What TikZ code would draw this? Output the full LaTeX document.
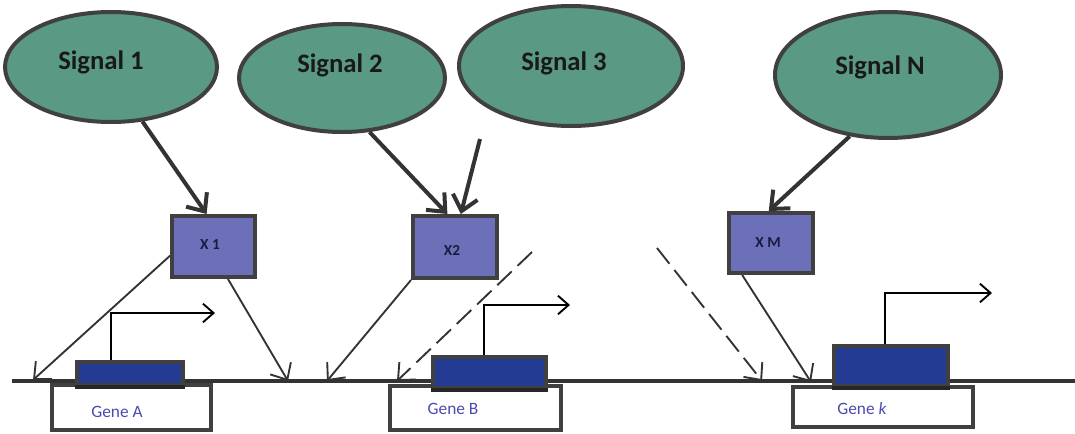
\documentclass[tikz,border=0pt]{standalone}
\usepackage{fontspec}
\setmainfont{Carlito}
\usetikzlibrary{shapes.geometric,arrows.meta,calc}
\definecolor{sigfill}{HTML}{5A9A85}
\definecolor{edgegray}{HTML}{404040}
\definecolor{xfill}{HTML}{6C70B8}
\definecolor{barfill}{HTML}{243B93}
\definecolor{genetext}{HTML}{4A4AB0}
\definecolor{arrowgray}{HTML}{333333}
\definecolor{xtext}{HTML}{1B1B40}
\tikzset{
  signal/.style={ellipse, draw=edgegray, fill=sigfill, line width=3pt, inner sep=0pt},
  sigtext/.style={font=\bfseries\fontsize{20}{22}\selectfont, text=black!90},
  xbox/.style={rectangle, draw=edgegray, fill=xfill, line width=3pt, inner sep=0pt},
  xtxt/.style={font=\bfseries\fontsize{11.5}{13}\selectfont, text=xtext},
  genebox/.style={rectangle, draw=edgegray, fill=white, line width=3pt, inner sep=0pt},
  genetxt/.style={font=\fontsize{13}{15}\selectfont, text=genetext},
  codebar/.style={rectangle, draw=edgegray, fill=barfill, line width=2.5pt, inner sep=0pt},
  bigarrow/.style={draw=arrowgray, line width=3pt, -{Straight Barb[length=11pt,width=19pt,line width=3pt]}},
  thinarrow/.style={draw=arrowgray, line width=1.4pt, -{Straight Barb[length=10pt,width=18pt,line width=1.4pt]}},
  dasharrow/.style={thinarrow, dash pattern=on 15pt off 6pt},
  prom/.style={draw=black, line width=1.4pt, -{Straight Barb[length=8pt,width=14pt,line width=1.4pt]}},
}
\begin{document}
\begin{tikzpicture}[x=0.75pt,y=-0.75pt]
\useasboundingbox (0,0) rectangle (1075,433);
\fill[white] (0,0) rectangle (1075,433);

% signals
\node[signal, minimum width=159pt, minimum height=82.5pt] (s1) at (111,67) {};
\node[signal, minimum width=154.5pt, minimum height=81pt] (s2) at (342,78) {};
\node[signal, minimum width=168pt, minimum height=90pt] (s3) at (571,66) {};
\node[signal, minimum width=169.5pt, minimum height=94.5pt] (sn) at (888,75) {};
\node[sigtext] (s1t) at (101,62) {Signal 1};
\node[sigtext] (s2t) at (340,65) {Signal 2};
\node[sigtext] (s3t) at (564,63) {Signal 3};
\node[sigtext] (snt) at (880,67) {Signal N};

% X boxes
\node[xbox, minimum width=62.25pt, minimum height=45.75pt] (x1) at (213.5,246.5) {};
\node[xbox, minimum width=63pt, minimum height=46.5pt] (x2) at (455,247) {};
\node[xbox, minimum width=63pt, minimum height=45pt] (xm) at (771,243) {};
\node[xtxt] (x1t) at (210,245) {X 1};
\node[xtxt] (x2t) at (452,250) {X2};
\node[xtxt] (xmt) at (768,243) {X M};

% baseline
\coordinate (bl) at (12,381);
\coordinate (br) at (1075,381);
\draw[draw=arrowgray, line width=3pt] (bl) -- (br);

% gene boxes
\node[genebox, minimum width=119.25pt, minimum height=33.75pt] (ga) at (131.5,407.5) {};
\node[genebox, minimum width=128.25pt, minimum height=33pt] (gb) at (475.5,408) {};
\node[genebox, minimum width=135pt, minimum height=30pt] (gk) at (883,407) {};
\node[genetxt] (gat) at (117,412) {Gene A};
\node[genetxt] (gbt) at (453,409) {Gene B};
\node[genetxt] (gkt) at (862,409) {Gene \textit{k}};

% coding bars
\node[codebar, minimum width=79.5pt, minimum height=17.25pt] (ca) at (130,373.5) {};
\node[codebar, minimum width=84.75pt, minimum height=23.25pt] (cb) at (489.5,372.5) {};
\node[codebar, minimum width=85.5pt, minimum height=30pt] (ck) at (891,366) {};
\draw[black!85, line width=3pt] (ca.south west) -- (ca.south east);
\draw[black!85, line width=3pt] (cb.south west) -- (cb.south east);
\draw[black!85, line width=3pt] (ck.south west) -- (ck.south east);

% promoter arrows
\coordinate (pa) at (215,313);
\coordinate (pb) at (570,305);
\coordinate (pk) at (992,293);
\draw[prom] ([xshift=27pt]ca.north west) |- (pa);
\draw[prom] ([xshift=39.75pt]cb.north west) |- (pb);
\draw[prom] ([xshift=39.75pt]ck.north west) |- (pk);

% signal arrows
\coordinate (e2) at (480,139);
\draw[bigarrow] (s1.-60) -- (x1.102);
\draw[bigarrow] (s2.-63) -- (x2.103);
\draw[bigarrow] (e2) -- (x2.80);
\draw[bigarrow] (sn.-122) -- (xm.94);

% arrows to baseline
\coordinate (a1) at (33,380);
\coordinate (a2) at (288,381);
\coordinate (a3) at (327,381);
\coordinate (a4) at (397,381);
\coordinate (a5) at (762,381);
\coordinate (a6) at (811,382);
\coordinate (d1) at (532,252);
\coordinate (d2) at (657,248);
\draw[thinarrow] (x1.192) -- (a1);
\draw[thinarrow] (x1.-66) -- (a2);
\draw[thinarrow] (x2.south west) -- (a3);
\draw[dasharrow] (d1) -- (a4);
\draw[dasharrow] (d2) -- (a5);
\draw[thinarrow] (xm.-132) -- (a6);
\end{tikzpicture}
\end{document}
